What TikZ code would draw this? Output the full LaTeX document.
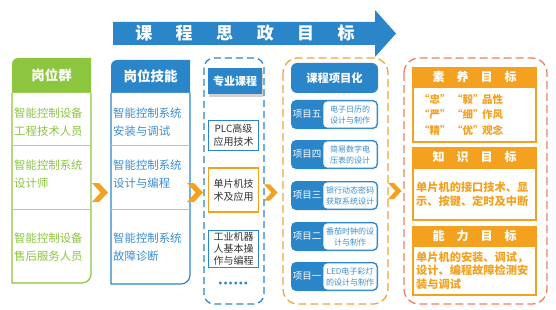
\documentclass[tikz,border=0pt]{standalone}
\usepackage{fontspec}
\setmainfont{Noto Sans CJK SC}
\newfontfamily\dejavu{DejaVu Sans}
\usetikzlibrary{shadows}
\definecolor{cgreen}{HTML}{8CC63F}
\definecolor{cblue}{HTML}{2B86C9}
\definecolor{cbluetxt}{HTML}{3A8ED2}
\definecolor{corange}{HTML}{F3A11E}
\definecolor{cred}{HTML}{F07F62}
\definecolor{cdashor}{HTML}{F0A540}
\definecolor{cdark}{HTML}{333333}
\begin{document}
\begin{tikzpicture}[x=1pt,y=-1pt,
  hdr/.style={text=white, inner sep=0, font=\fontsize{13.5}{16}\selectfont\bfseries},
  coltxt/.style={anchor=west, align=left, inner sep=0, font=\fontsize{11.4}{18}\selectfont},
  course/.style={draw=cblue, line width=0.9pt, fill=white, minimum width=50pt, align=center, inner sep=0, text=cdark, font=\fontsize{10}{13}\selectfont},
  projbg/.style={fill=cblue, rounded corners=5pt, minimum width=87pt, minimum height=29pt, inner sep=0},
  projtxt/.style={draw=cblue, line width=0.8pt, fill=white, rounded corners=4pt, minimum width=54pt, minimum height=27pt, inner sep=0, align=center, text=cbluetxt, font=\fontsize{8}{11}\selectfont},
  projlab/.style={text=white, inner sep=0, font=\fontsize{9.5}{11}\selectfont},
  goalhdr/.style={fill=corange, minimum width=125pt, minimum height=20pt, inner sep=0, text=white, font=\fontsize{12}{14}\selectfont\bfseries},
  goalbody/.style={draw=corange, line width=2pt, fill=white, minimum width=123pt, inner sep=0},
  goaltxt/.style={anchor=west, align=left, inner sep=0, text=corange, font=\fontsize{11.2}{14}\selectfont\bfseries},
  chev/.pic={\fill[corange] (0,-9.5) -- (7,-9.5) -- (16,0) -- (7,9.5) -- (0,9.5) -- (8.5,0) -- cycle;}
]
\useasboundingbox (0,0) rectangle (556,310);
\fill[white] (0,0) rectangle (556,310);

% top arrow
\fill[cblue] (113,22) -- (375,22) -- (375,10) -- (396,33.5) -- (375,57) -- (375,45) -- (113,45) -- cycle;
\node[text=white, inner sep=0, font=\fontsize{17}{20}\selectfont\bfseries] (title) at (245,33.5)
  {课\hspace{23.5pt}程\hspace{23.5pt}思\hspace{23.5pt}政\hspace{23.5pt}目\hspace{23.5pt}标};

% green column
\fill[cgreen] (12,93) -- (12,64) .. controls (12,60.7) and (14.7,58) .. (18,58) -- (91,58) -- (91,93) -- cycle;
\draw[cgreen, line width=1.2pt, fill=white] (12,93) -- (12,283) -- (82,283) .. controls (87,283) and (91,279) .. (91,274) -- (91,93);
\draw[cgreen!70, line width=0.8pt] (12,145) -- (91,145) (12,209) -- (91,209);
\node[hdr] (g0) at (51.5,75.5) {岗位群};
\node[coltxt, text=cgreen] (g1) at (14,122) {智能控制设备\\工程技术人员};
\node[coltxt, text=cgreen] (g2) at (14,174) {智能控制系统\\设计师};
\node[coltxt, text=cgreen] (g3) at (14,247) {智能控制设备\\售后服务人员};

% blue column
\fill[cblue] (111,93) -- (111,66) .. controls (111,62.7) and (113.7,60) .. (117,60) -- (190,60) -- (190,93) -- cycle;
\draw[cblue, line width=1.2pt, fill=white] (111,93) -- (111,284) -- (181,284) .. controls (186,284) and (190,280) .. (190,275) -- (190,93);
\draw[cblue!45, line width=0.8pt] (111,145) -- (190,145) (111,209) -- (190,209);
\node[hdr] (b0) at (150.5,76.5) {岗位技能};
\node[coltxt, text=cbluetxt] (b1) at (113,122) {智能控制系统\\安装与调试};
\node[coltxt, text=cbluetxt] (b2) at (113,174) {智能控制系统\\设计与编程};
\node[coltxt, text=cbluetxt] (b3) at (113,247) {智能控制系统\\故障诊断};

% chevrons
\pic at (92,192.5) {chev};
\pic at (187,192.5) {chev};
\pic[scale=0.85] at (264,192.5) {chev};
\pic[scale=0.85] at (388,191) {chev};

% course column
\draw[cblue, dashed, dash pattern=on 7pt off 4pt, line width=1.3pt, rounded corners=10pt] (204,58) rectangle (264,304);
\node[fill=cblue, minimum width=54pt, minimum height=26pt, inner sep=0, drop shadow={opacity=0.35, shadow xshift=1pt, shadow yshift=-3pt},
  text=white, font=\fontsize{11}{13}\selectfont\bfseries] (c0) at (235,81) {专业课程};
\node[course, minimum height=30pt] (c1) at (233.5,135) {PLC高级\\应用技术};
\node[course, draw=corange, line width=1.6pt, minimum height=44pt] (c2) at (233.5,190) {单片机技\\术及应用};
\node[course, minimum height=37pt, font=\fontsize{10}{12}\selectfont] (c3) at (233.5,248.5) {工业机器\\人基本操\\作与编程};
\node[text=cblue, inner sep=0, font=\dejavu\bfseries\fontsize{8}{9}\selectfont] (c4) at (233.5,284) {\hspace{-0.5pt}••••••};

% project column
\draw[cdashor, dashed, dash pattern=on 8pt off 4pt, line width=1.3pt, rounded corners=15pt] (283,58) rectangle (388,304);
\node[fill=cblue, rounded corners=6pt, minimum width=87pt, minimum height=30pt, inner sep=0, text=white, font=\fontsize{11.3}{13}\selectfont\bfseries] (p0) at (334.5,78) {课程项目化};
\node[projbg] (p5) at (334.5,114.5) {};
\node[projtxt] (p5t) at (350,114.5) {电子日历的\\设计与制作};
\node[projlab] (p5l) at (307,114.5) {项目五};
\node[projbg] (p4) at (334.5,154.5) {};
\node[projtxt] (p4t) at (350,154.5) {简易数字电\\压表的设计};
\node[projlab] (p4l) at (307,154.5) {项目四};
\node[projbg] (p3) at (334.5,195.5) {};
\node[projtxt] (p3t) at (350,195.5) {银行动态密码\\获取系统设计};
\node[projlab] (p3l) at (307,195.5) {项目三};
\node[projbg] (p2) at (334.5,236.5) {};
\node[projtxt] (p2t) at (350,236.5) {番茄时钟的设\\计与制作};
\node[projlab] (p2l) at (307,236.5) {项目二};
\node[projbg] (p1) at (334.5,276.5) {};
\node[projtxt] (p1t) at (350,276.5) {LED电子彩灯\\的设计与制作};
\node[projlab] (p1l) at (307,276.5) {项目一};

% goals column
\draw[cred, dashed, dash pattern=on 8pt off 4pt, line width=1.3pt, rounded corners=15pt] (404,58) rectangle (547,304);
\node[goalhdr] (s0) at (474.5,77) {素\hspace{12pt}养\hspace{12pt}目\hspace{12pt}标};
\node[goalbody, minimum height=54pt] (s1) at (474.5,114.5) {};
\node[goaltxt, font=\fontsize{10.5}{15.5}\selectfont\bfseries] (s1t) at (419,114.5)
  {\makebox[33pt][l]{“忠”}\makebox[30pt][l]{“毅”}品性\\
   \makebox[33pt][l]{“严”}\makebox[30pt][l]{“细”}作风\\
   \makebox[33pt][l]{“精”}\makebox[30pt][l]{“优”}观念};
\node[goalhdr] (k0) at (474.5,157) {知\hspace{12pt}识\hspace{12pt}目\hspace{12pt}标};
\node[goalbody, minimum height=52pt] (k1) at (474.5,193.5) {};
\node[goaltxt] (k1t) at (416,194) {单片机的接口技术、显\\示、按键、定时及中断};
\node[goalhdr] (a0) at (474.5,235.5) {能\hspace{12pt}力\hspace{12pt}目\hspace{12pt}标};
\node[goalbody, minimum height=49pt] (a1) at (474.5,270) {};
\node[goaltxt, font=\fontsize{11.2}{13.5}\selectfont\bfseries] (a1t) at (416,270.5) {单片机的安装、调试，\\设计、编程故障检测安\\装与调试};
\end{tikzpicture}
\end{document}
